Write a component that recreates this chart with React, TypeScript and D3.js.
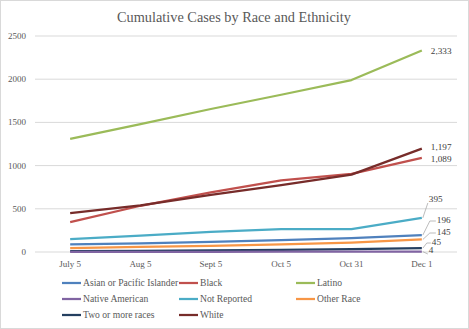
import React from "react";
import * as d3 from "d3";

const categories = ["July 5", "Aug 5", "Sept 5", "Oct 5", "Oct 31", "Dec 1"];
const seriesNames = [
  "Asian or Pacific Islander",
  "Black",
  "Latino",
  "Native American",
  "Not Reported",
  "Other Race",
  "Two or more races",
  "White",
];
const asian = [88, 100, 118, 138, 162, 196];
const black = [345, 535, 690, 830, 905, 1089];
const latino = [1310, 1480, 1655, 1820, 1990, 2333];
const nativeAm = [1, 2, 2, 3, 3, 4];
const notReported = [150, 190, 232, 265, 265, 395];
const otherRace = [45, 58, 72, 88, 108, 145];
const twoOrMore = [10, 14, 18, 24, 32, 45];
const white = [450, 540, 660, 775, 895, 1197];
const yTicks = [0, 500, 1000, 1500, 2000, 2500];
const labelText = ["196", "1,089", "2,333", "4", "395", "145", "45", "1,197"];

const colors = ["#4F81BD", "#C0504D", "#9BBB59", "#8064A2", "#4BACC6", "#F79646", "#243F60", "#772C2A"];

export default function App() {
  const W = 469, H = 329;
  const left = 35, right = 457, top = 36, bottom = 252;
  const data = [asian, black, latino, nativeAm, notReported, otherRace, twoOrMore, white];
  const x = d3.scalePoint<string>().domain(categories).range([left, right]).padding(0.5);
  const y = d3.scaleLinear().domain([0, 2500]).range([bottom, top]);
  const line = d3.line<number>().x((_, i) => x(categories[i])!).y((v) => y(v));
  const font = "'Liberation Serif', 'DejaVu Serif', serif";
  const tc = "#595959";
  const lastX = x(categories[categories.length - 1])!;
  const drawOrder = [6, 3, 5, 0, 4, 1, 7, 2];

  const labelLayout: Record<number, { tx: number; ty: number; leader: boolean; hx?: number }> = {
    2: { tx: lastX + 9, ty: y(latino[5]) + 1, leader: false },
    7: { tx: lastX + 9, ty: y(white[5]) - 2, leader: false },
    1: { tx: lastX + 9, ty: y(black[5]) + 1, leader: false },
    4: { tx: lastX + 7, ty: 199, leader: true },
    0: { tx: lastX + 15, ty: 220, leader: true, hx: 6 },
    5: { tx: lastX + 15, ty: 232, leader: true, hx: 6 },
    6: { tx: lastX + 10, ty: 242, leader: true, hx: 4 },
    3: { tx: lastX + 7, ty: 250, leader: true },
  };

  const legendCols = [62, 179, 296];
  const legendRows = [283, 299, 315];

  return (
    <svg width={W} height={H} style={{ position: "absolute", left: 0, top: 0 }}>
      <rect x={0} y={0} width={W} height={H} fill="#fff" />
      <rect x={0.5} y={0.5} width={W - 1} height={H - 1} fill="none" stroke="#D9D9D9" />
      <text x={234} y={22} textAnchor="middle" fontFamily={font} fontSize={14.3} fill={tc}>
        Cumulative Cases by Race and Ethnicity
      </text>
      {yTicks.map((t) => (
        <g key={t}>
          <line x1={left} x2={right} y1={y(t)} y2={y(t)} stroke="#D9D9D9" strokeWidth={1} />
          <text x={26} y={y(t) + 3} textAnchor="end" fontFamily={font} fontSize={9} fill={tc}>
            {t}
          </text>
        </g>
      ))}
      {categories.map((c) => (
        <text key={c} x={x(c)!} y={267} textAnchor="middle" fontFamily={font} fontSize={9} fill={tc}>
          {c}
        </text>
      ))}
      {drawOrder.map((i) => (
        <path key={i} d={line(data[i])!} fill="none" stroke={colors[i]} strokeWidth={2.25} strokeLinejoin="round" />
      ))}
      {drawOrder.map((i) => {
        const L = labelLayout[i];
        const py = y(data[i][5]);
        return (
          <g key={"l" + i}>
            {L.leader && (
              <polyline
                points={
                  L.hx
                    ? `${lastX + 1},${py} ${L.tx - L.hx - 1},${L.ty + 1} ${L.tx - 1},${L.ty + 1}`
                    : `${lastX + 1},${py} ${L.tx - 1},${L.ty + 4}`
                }
                fill="none"
                stroke="#A6A6A6"
                strokeWidth={0.75}
              />
            )}
            <text x={L.tx} y={L.ty + 3} fontFamily={font} fontSize={9.2} fill="#404040">
              {labelText[i]}
            </text>
          </g>
        );
      })}
      {seriesNames.map((n, i) => {
        const cx = legendCols[i % 3];
        const cy = legendRows[Math.floor(i / 3)];
        return (
          <g key={n}>
            <line x1={cx} x2={cx + 19} y1={cy} y2={cy} stroke={colors[i]} strokeWidth={2.25} />
            <text x={cx + 21} y={cy + 3.2} fontFamily={font} fontSize={9.6} fill={tc}>
              {n}
            </text>
          </g>
        );
      })}
    </svg>
  );
}
